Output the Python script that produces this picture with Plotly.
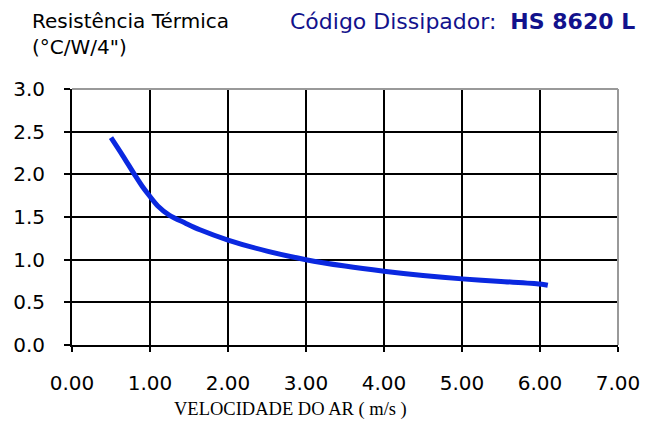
import plotly.graph_objects as go

# Data
velocidade = [0.5, 0.65, 0.8, 0.9, 1.0, 1.1, 1.25, 1.45, 1.64, 2.0, 2.5, 3.0, 3.5, 4.0, 4.5, 5.0, 5.5, 6.0, 6.1]
resistencia = [2.43, 2.22, 2.0, 1.86, 1.74, 1.63, 1.52, 1.43, 1.35, 1.23, 1.10, 1.00, 0.925, 0.865, 0.815, 0.775, 0.745, 0.715, 0.70]

x_ticks = [0, 1, 2, 3, 4, 5, 6, 7]
x_tick_labels = ["0.00", "1.00", "2.00", "3.00", "4.00", "5.00", "6.00", "7.00"]
y_ticks = [0, 0.5, 1.0, 1.5, 2.0, 2.5, 3.0]
y_tick_labels = ["0.0", "0.5", "1.0", "1.5", "2.0", "2.5", "3.0"]

fig = go.Figure()
fig.add_trace(go.Scatter(
    x=velocidade, y=resistencia, mode="lines",
    line=dict(color="#0a28e0", width=5, shape="spline", smoothing=0.8),
    hoverinfo="skip", showlegend=False,
))

font_main = "DejaVu Sans, Verdana, sans-serif"

# page body has an 8px margin, so the figure is sized/offset to compensate
fig.update_layout(
    width=647, height=413,
    margin=dict(l=64, r=37, t=81, b=76, autoexpand=False),
    paper_bgcolor="white", plot_bgcolor="white",
    font=dict(family=font_main, color="black", size=20),
    xaxis=dict(
        range=[0, 7], tickvals=x_ticks, ticktext=x_tick_labels,
        showgrid=True, gridcolor="black", gridwidth=2,
        showline=True, linecolor="black", linewidth=2, mirror=False,
        ticks="outside", ticklen=5, tickwidth=2, tickcolor="black",
        ticklabelstandoff=14, zeroline=False, automargin=False,
        tickfont=dict(size=20),
    ),
    yaxis=dict(
        range=[0, 3], tickvals=y_ticks, ticktext=y_tick_labels,
        showgrid=True, gridcolor="black", gridwidth=2,
        showline=True, linecolor="black", linewidth=2,
        ticks="outside", ticklen=6, tickwidth=2, tickcolor="black",
        ticklabelstandoff=15, zeroline=False, automargin=False,
        tickfont=dict(size=20),
    ),
    shapes=[
        dict(type="line", xref="paper", yref="paper", x0=0, x1=1, y0=1, y1=1,
             line=dict(color="#999999", width=2)),
        dict(type="line", xref="paper", yref="paper", x0=1, x1=1, y0=0, y1=1,
             line=dict(color="#999999", width=2)),
    ],
    annotations=[
        dict(text="Resistência Térmica<br>(°C/W/4\")", xref="paper", yref="paper",
             x=-0.077, y=1.32, xanchor="left", yanchor="top", showarrow=False,
             align="left", font=dict(size=20, color="black", family=font_main)),
        dict(text="Código Dissipador:  <b>HS 8620 L</b>", xref="paper", yref="paper",
             x=1.035, y=1.32, xanchor="right", yanchor="top", showarrow=False,
             font=dict(size=22, color="#12128c", family=font_main)),
        dict(text="VELOCIDADE DO AR ( m/s )", xref="paper", yref="paper",
             x=0.40, y=-0.25, xanchor="center", yanchor="middle", showarrow=False,
             font=dict(size=18.5, color="black", family="Liberation Serif, Times New Roman, serif")),
    ],
)

fig.write_html("out.html")
